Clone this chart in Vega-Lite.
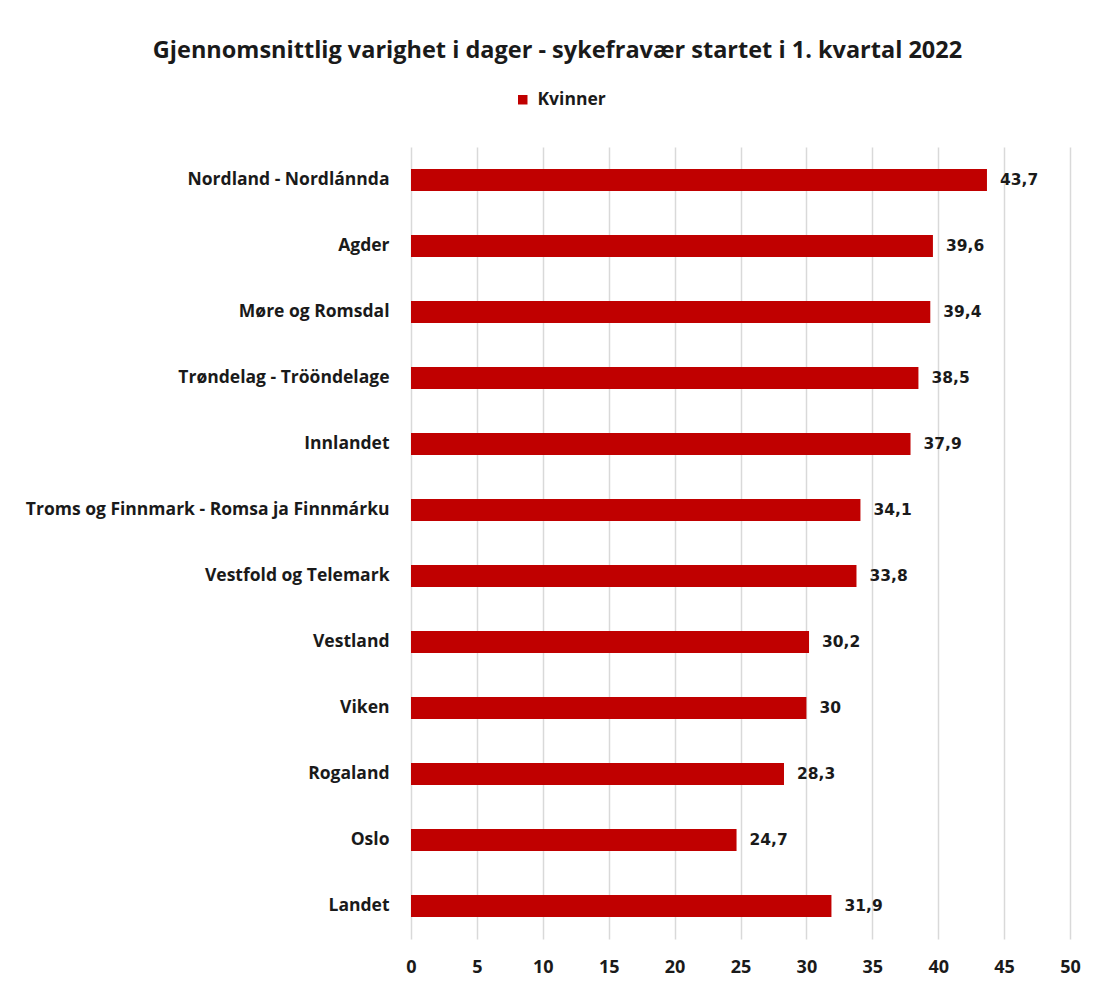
{
  "$schema": "https://vega.github.io/schema/vega-lite/v6.json",
  "width": 659,
  "height": 792,
  "autosize": {"type": "none"},
  "padding": {"left": 411, "top": 147, "right": 29, "bottom": 52},
  "background": "white",
  "config": {
    "locale": {"number": {"decimal": ",", "thousands": " ", "grouping": [3], "currency": ["", " kr"]}},
    "view": {"stroke": null},
    "font": "Open Sans"
  },
  "title": {
    "text": "Gjennomsnittlig varighet i dager - sykefravær startet i 1. kvartal 2022",
    "font": "Open Sans",
    "fontSize": 23.5,
    "fontWeight": "bold",
    "color": "#1a1a1a",
    "anchor": "middle",
    "dx": -183,
    "offset": 29
  },
  "data": {
    "values": [
      {"region": "Nordland - Nordlánnda", "serie": "Kvinner", "verdi": 43.7},
      {"region": "Agder", "serie": "Kvinner", "verdi": 39.6},
      {"region": "Møre og Romsdal", "serie": "Kvinner", "verdi": 39.4},
      {"region": "Trøndelag - Trööndelage", "serie": "Kvinner", "verdi": 38.5},
      {"region": "Innlandet", "serie": "Kvinner", "verdi": 37.9},
      {"region": "Troms og Finnmark - Romsa ja Finnmárku", "serie": "Kvinner", "verdi": 34.1},
      {"region": "Vestfold og Telemark", "serie": "Kvinner", "verdi": 33.8},
      {"region": "Vestland", "serie": "Kvinner", "verdi": 30.2},
      {"region": "Viken", "serie": "Kvinner", "verdi": 30},
      {"region": "Rogaland", "serie": "Kvinner", "verdi": 28.3},
      {"region": "Oslo", "serie": "Kvinner", "verdi": 24.7},
      {"region": "Landet", "serie": "Kvinner", "verdi": 31.9}
    ]
  },
  "encoding": {
    "y": {
      "field": "region",
      "type": "nominal",
      "sort": null,
      "scale": {"paddingInner": 0.667, "paddingOuter": 0.333},
      "axis": {
        "title": null,
        "domain": false,
        "ticks": false,
        "grid": false,
        "labelFont": "Open Sans",
        "labelFontSize": 17.5,
        "labelFontWeight": "bold",
        "labelColor": "#1a1a1a",
        "labelPadding": 22,
        "labelLimit": 500
      }
    },
    "x": {
      "field": "verdi",
      "type": "quantitative",
      "scale": {"domain": [0, 50], "nice": false},
      "axis": {
        "title": null,
        "values": [0, 5, 10, 15, 20, 25, 30, 35, 40, 45, 50],
        "domain": false,
        "ticks": false,
        "grid": true,
        "gridColor": "#d9d9d9",
        "gridWidth": 1.5,
        "labelFont": "Open Sans",
        "labelFontSize": 18,
        "labelFontWeight": "bold",
        "labelColor": "#1a1a1a",
        "labelPadding": 19,
        "labelFlush": false
      }
    }
  },
  "layer": [
    {
      "mark": {"type": "bar"},
      "encoding": {
        "color": {
          "field": "serie",
          "type": "nominal",
          "scale": {"range": ["#c00000"]},
          "legend": {
            "title": null,
            "orient": "none",
            "legendX": 103,
            "legendY": -56,
            "symbolType": "square",
            "symbolSize": 90,
            "symbolStrokeWidth": 0,
            "labelFont": "Open Sans",
            "labelFontSize": 17.5,
            "labelFontWeight": "bold",
            "labelColor": "#1a1a1a",
            "labelOffset": 6
          }
        }
      }
    },
    {
      "mark": {"type": "text", "align": "left", "dx": 13, "font": "DejaVu Sans", "fontSize": 15.5, "fontWeight": "bold", "color": "#1a1a1a"},
      "encoding": {
        "text": {"field": "verdi", "type": "quantitative", "format": ".1~f"}
      }
    }
  ]
}
